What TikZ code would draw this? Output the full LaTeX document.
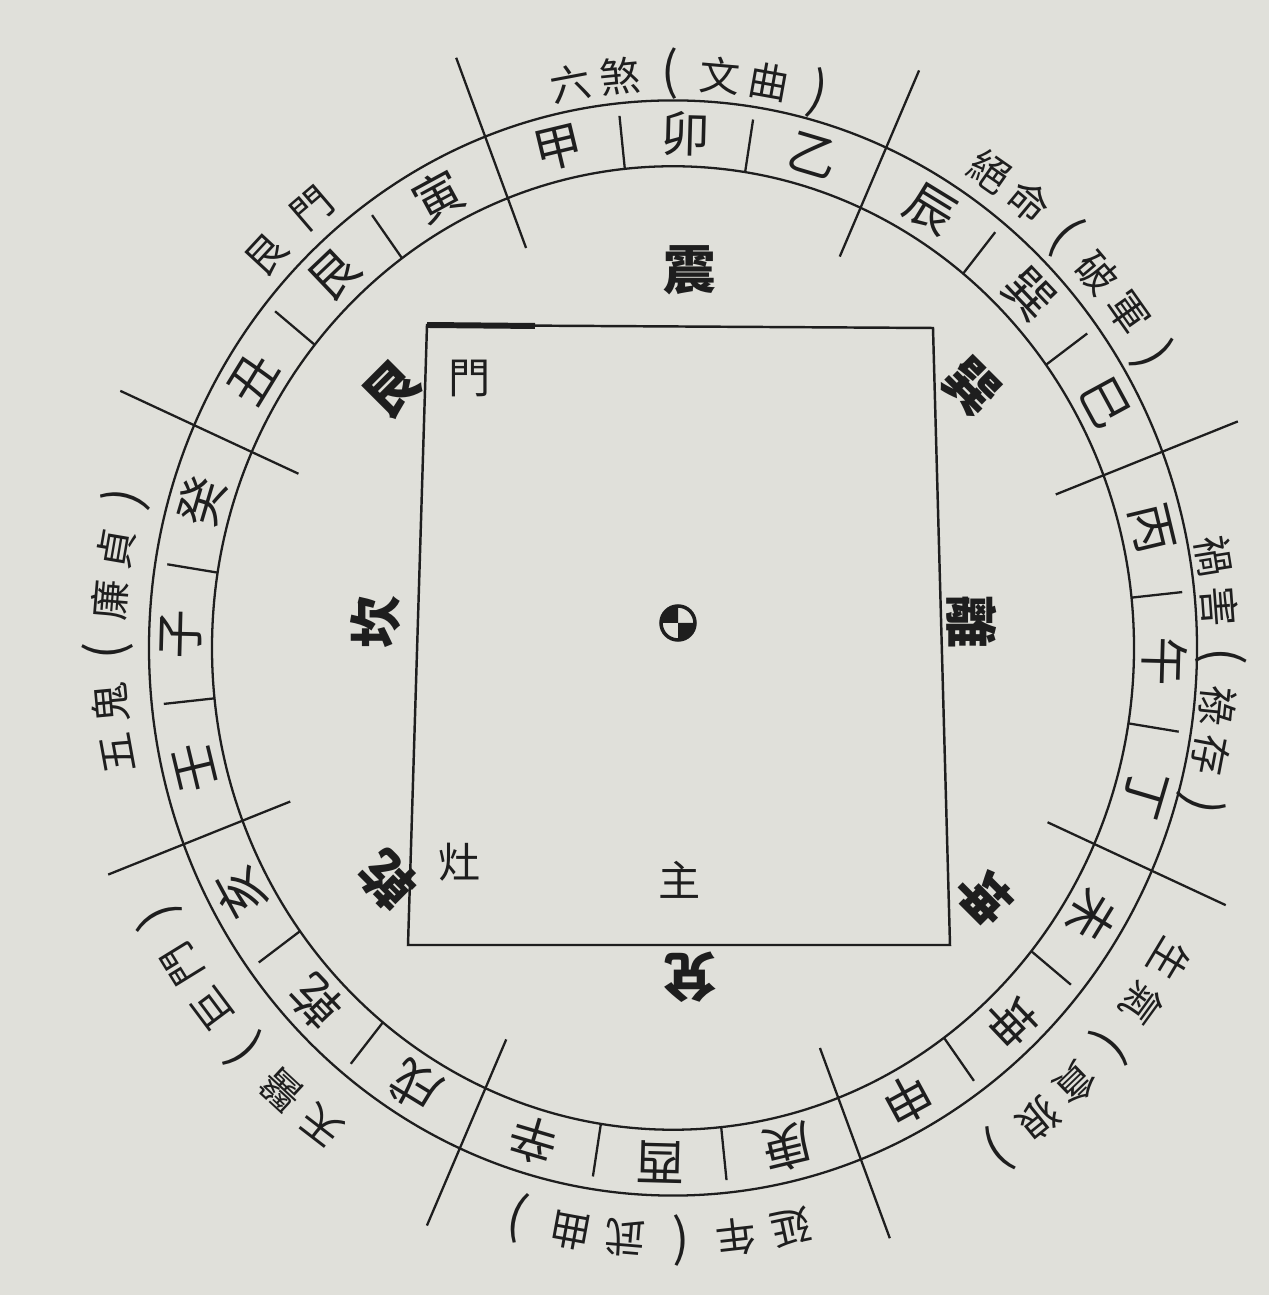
\documentclass[tikz,border=0pt]{standalone}
\usepackage{fontspec}
\newfontfamily\cjk{Noto Sans CJK TC}
\definecolor{paper}{RGB}{224,224,218}
\definecolor{ink}{RGB}{30,30,30}
\newcommand{\lp}{{\fontsize{29}{29}\selectfont(}}
\newcommand{\rp}{{\fontsize{29}{29}\selectfont)}}

\begin{document}
\begin{tikzpicture}[
x=0.02cm, y=0.02cm,
mountainnode/.style={inner sep=0pt, text=ink, font=\cjk\fontsize{28}{28}\selectfont},
starnode/.style={inner sep=0pt, text=ink, font=\cjk\fontsize{23}{23}\selectfont},
guanode/.style={inner sep=0pt, text=ink, font=\cjk\bfseries\fontsize{30}{30}\selectfont},
roomnode/.style={inner sep=0pt, text=ink, font=\cjk\fontsize{24}{24}\selectfont},
ringline/.style={draw=ink, line width=1.3pt}
]

\fill[paper] (0,0) rectangle (1269,1295);
\useasboundingbox (0,0) rectangle (1269,1295);

% compass ring, east on top
\begin{scope}[shift={(673,647)}, yscale=1.045]
\draw[ringline] (0,0) circle (524);
\draw[ringline] (0,0) circle (461);
\foreach \a in {22.5,67.5,...,337.5}
  \draw[ringline] ({\a-1.5}:410) -- ({\a-1.5}:605);
\foreach \a in {0,45,...,315}
  \draw[ringline] ({\a-9}:461) -- ({\a-9}:512) ({\a+6}:461) -- ({\a+6}:512);
\foreach \m [count=\i from 0] in {卯,乙,辰,巽,巳,丙,午,丁,未,坤,申,庚,酉,辛,戌,乾,亥,壬,子,癸,丑,艮,寅,甲}
  \node[mountainnode, rotate={-15*\i-1.5}] (m\i) at ({88.5-15*\i}:492) {\m};

% stars outside the ring
\foreach \c [count=\i] in {六,煞,\lp,文,曲,\rp}
  \node[starnode, rotate={-2.3-(\i-3.5)*5.2}] (liusha\i) at ({87.7-(\i-3.5)*5.2}:550) {\c};
\foreach \c [count=\i] in {絕,命,\lp,破,軍,\rp}
  \node[starnode, rotate={-47.3-(\i-3.5)*5}] (jueming\i) at ({42.7-(\i-3.5)*5}:556) {\c};
\foreach \c [count=\i] in {禍,害,\lp,祿,存,\rp}
  \node[starnode, rotate={-93.3-(\i-3.5)*5}] (huohai\i) at ({-3.3-(\i-3.5)*5}:548) {\c};
\foreach \c [count=\i] in {生,氣,\lp,貪,狼,\rp}
  \node[starnode, rotate={-133.5-(\i-3.5)*5}] (shengqi\i) at ({-43.5-(\i-3.5)*5}:580) {\c};
\foreach \c [count=\i] in {延,年,\lp,武,曲,\rp}
  \node[starnode, rotate={-182-(\i-3.5)*5.6}] (yannian\i) at ({-92-(\i-3.5)*5.6}:567) {\c};
\foreach \c [count=\i] in {天,醫,\lp,巨,門,\rp}
  \node[starnode, rotate={-230.6-(\i-3.5)*5.2}] (tianyi\i) at ({-140.6-(\i-3.5)*5.2}:576) {\c};
\foreach \c [count=\i] in {五,鬼,\lp,廉,貞,\rp}
  \node[starnode, rotate={87.8-(\i-3.5)*5}] (wugui\i) at ({177.8-(\i-3.5)*5}:565) {\c};
\foreach \c [count=\i] in {艮,門}
  \node[starnode, rotate={43.9-(\i-1.5)*6.6}] (genmen\i) at ({133.9-(\i-1.5)*6.6}:554) {\c};
\end{scope}

% the house
\draw[ink, line width=1.4pt] (427,970) -- (933,967) -- (950,350) -- (408,350) -- cycle;
\draw[ink, line width=3.4pt] (427,970) -- (535,969);

\node[guanode] (zhen) at (690,1025) {震};
\node[guanode, rotate=-45] (xun) at (972,908) {巽};
\node[guanode, rotate=-90] (li) at (972,673) {離};
\node[guanode, rotate=-135] (kun) at (984,398) {坤};
\node[guanode, rotate=180] (dui) at (690,318) {兌};
\node[guanode, rotate=135] (qian) at (388,415) {乾};
\node[guanode, rotate=90] (kan) at (376,673) {坎};
\node[guanode, rotate=45] (gen) at (392,905) {艮};

\node[roomnode] (men) at (470,917) {門};
\node[roomnode] (zao) at (460,433) {灶};
\node[roomnode] (zhu) at (680,415) {主};

% centre mark
\coordinate (centre) at (678,672);
\fill[ink] (centre) -- ++(180:17) arc (180:90:17) -- cycle;
\fill[ink] (centre) -- ++(0:17) arc (0:-90:17) -- cycle;
\draw[ink, line width=2pt] (centre) circle (17);
\end{tikzpicture}
\end{document}
